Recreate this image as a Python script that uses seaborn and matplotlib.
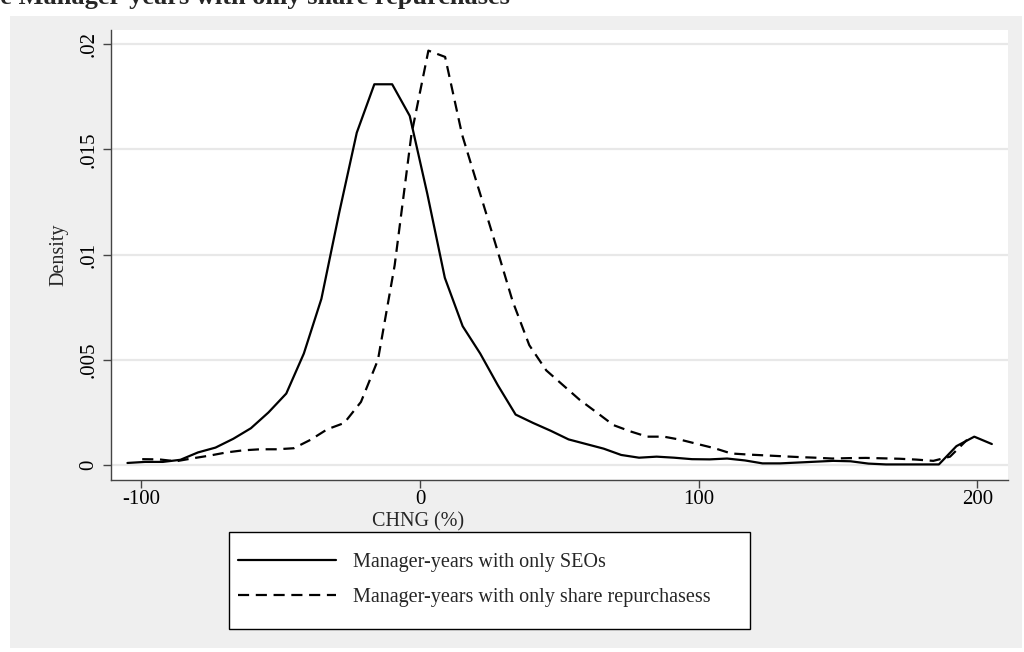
import pandas as pd
import matplotlib
matplotlib.use("Agg")
import matplotlib.pyplot as plt
from matplotlib.patches import Rectangle
import seaborn as sns

# kernel density curves (50 grid points each)
seo_x = [-105.0, -98.7, -92.3, -86.0, -79.7, -73.4, -67.0, -60.7, -54.4, -48.0,
         -41.7, -35.4, -29.0, -22.7, -16.4, -10.0, -3.7, 2.6, 8.9, 15.3,
         21.6, 27.9, 34.3, 40.6, 46.9, 53.3, 59.6, 65.9, 72.2, 78.6,
         84.9, 91.2, 97.6, 103.9, 110.2, 116.6, 122.9, 129.2, 135.6, 141.9,
         148.2, 154.5, 160.9, 167.2, 173.5, 179.9, 186.2, 192.5, 198.9, 205.2]
seo_d = [0.0001, 0.00015, 0.00015, 0.00025, 0.0006, 0.00083, 0.00125, 0.00175, 0.0025, 0.0034,
         0.0053, 0.0079, 0.012, 0.0158, 0.0181, 0.0181, 0.0166, 0.0129, 0.0089, 0.0066,
         0.0053, 0.0038, 0.0024, 0.002, 0.00163, 0.00122, 0.001, 0.00078, 0.00048, 0.00035,
         0.0004, 0.00035, 0.00028, 0.00027, 0.00031, 0.00022, 0.00008, 0.00008, 0.00012, 0.00016,
         0.0002, 0.00018, 0.00007, 0.00003, 0.00003, 0.00003, 0.00003, 0.0009, 0.00135, 0.001]

rep_x = [-99.7, -93.7, -87.6, -81.6, -75.5, -69.5, -63.5, -57.4, -51.4, -45.3,
         -39.3, -33.3, -27.2, -21.2, -15.1, -9.1, -3.1, 3.0, 9.0, 15.1,
         21.1, 27.1, 33.2, 39.2, 45.3, 51.3, 57.3, 63.4, 69.4, 75.5,
         81.5, 87.5, 93.6, 99.6, 105.7, 111.7, 117.7, 123.8, 129.8, 135.9,
         141.9, 147.9, 154.0, 160.0, 166.1, 172.1, 178.1, 184.2, 190.2, 196.3]
rep_d = [0.00028, 0.00027, 0.00018, 0.00032, 0.00045, 0.0006, 0.0007, 0.00075, 0.00075, 0.0008,
         0.0012, 0.0017, 0.002, 0.003, 0.005, 0.0095, 0.0157, 0.0197, 0.0194, 0.0157,
         0.0131, 0.0105, 0.0078, 0.0057, 0.0045, 0.0038, 0.0031, 0.0025, 0.0019, 0.0016,
         0.00135, 0.00135, 0.0012, 0.001, 0.0008, 0.00055, 0.0005, 0.00046, 0.00042, 0.00038,
         0.00035, 0.00031, 0.00033, 0.00034, 0.00032, 0.0003, 0.00026, 0.0002, 0.0004, 0.0012]

labels = ["Manager-years with only SEOs", "Manager-years with only share repurchasess"]
y_ticks = [0, 0.005, 0.01, 0.015, 0.02]
y_ticklabels = ["0", ".005", ".01", ".015", ".02"]
x_ticks = [-100, 0, 100, 200]

df = pd.concat([
    pd.DataFrame({"chng": seo_x, "density": seo_d, "group": labels[0]}),
    pd.DataFrame({"chng": rep_x, "density": rep_d, "group": labels[1]}),
])

sns.set_theme(style="white")
plt.rcParams["font.family"] = ["Liberation Serif", "DejaVu Serif"]

fig = plt.figure(figsize=(10.24, 6.52), dpi=100)
fig.patch.set_facecolor("white")
# light grey graph region, as in Stata's s2 scheme
fig.patches.append(Rectangle((10 / 1024, 1 - 648 / 652), 1012 / 1024, 632 / 652,
                             transform=fig.transFigure, facecolor="#efefef",
                             edgecolor="none", zorder=-10))
# legend box
fig.patches.append(Rectangle((229 / 1024, 1 - 629 / 652), 521 / 1024, 97 / 652,
                             transform=fig.transFigure, facecolor="white",
                             edgecolor="black", linewidth=1.0, zorder=1))

ax = fig.add_axes([111 / 1024, 1 - 480 / 652, 897 / 1024, 450 / 652])
ax.set_facecolor("white")

sns.lineplot(data=df, x="chng", y="density", style="group", color="black",
             dashes={labels[0]: "", labels[1]: (5, 3)}, linewidth=1.6,
             ax=ax, sort=False)
ax.get_legend().remove()

ax.set_xlim(-110.9, 211)
ax.set_ylim(-0.00071, 0.02068)
ax.set_xticks(x_ticks)
ax.set_xticklabels([str(t) for t in x_ticks])
ax.set_yticks(y_ticks)
ax.set_yticklabels(y_ticklabels, rotation=90, va="center")
ax.yaxis.grid(True, color="#e8e8e8", linewidth=1.6)
ax.xaxis.grid(False)
ax.set_axisbelow(True)

for side in ["top", "right"]:
    ax.spines[side].set_visible(False)
for side in ["left", "bottom"]:
    ax.spines[side].set_color("#444444")
    ax.spines[side].set_linewidth(1.0)

ax.tick_params(axis="both", which="major", direction="out", length=6, width=1,
               color="#444444", labelsize=15, labelcolor="black", pad=3,
               left=True, bottom=True)
ax.tick_params(axis="x", pad=1)

ax.set_xlabel("CHNG (%)", fontsize=14.5)
ax.xaxis.set_label_coords((418 - 111) / 897, -0.072)
ax.set_ylabel("Density", fontsize=14.5, labelpad=8)

handles = ax.get_lines()[:2]
leg = fig.legend(handles, labels, loc="center left",
                 bbox_to_anchor=(238 / 1024, 1 - 580 / 652),
                 fontsize=14.5, frameon=False,
                 handlelength=4.87, handletextpad=0.85, labelspacing=0.75,
                 borderpad=0, borderaxespad=0)
leg.set_zorder(5)

fig.text(510 / 1024, 1 - 4 / 652, "The Manager-years with only share repurchases",
         ha="right", va="baseline", fontsize=19, fontweight="bold")

fig.savefig("out.png", dpi=100)
